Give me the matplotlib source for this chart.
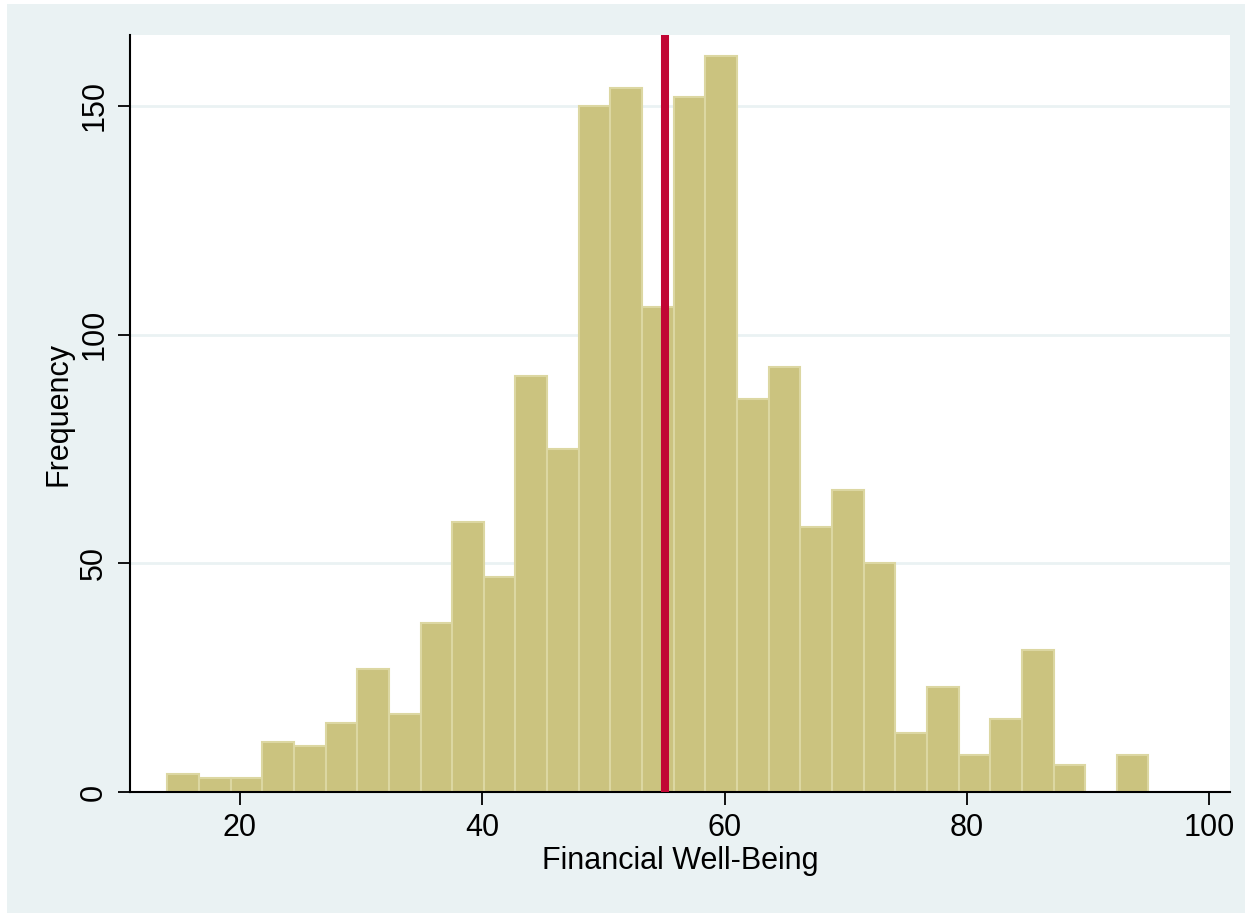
import numpy as np
import matplotlib.pyplot as plt
from matplotlib.patches import Rectangle

plt.rcParams['font.family'] = ['Liberation Sans', 'DejaVu Sans']

# histogram data (31 bins between 14 and 95)
bin_min = 14
bin_max = 95
counts = [4, 3, 3, 11, 10, 15, 27, 17, 37, 59, 47, 91, 75, 150, 154, 106,
          152, 161, 86, 93, 58, 66, 50, 13, 23, 8, 16, 31, 6, 0, 8]
mean_value = 55.1
xticks = [20, 40, 60, 80, 100]
yticks = [0, 50, 100, 150]

edges = np.linspace(bin_min, bin_max, len(counts) + 1)
width = edges[1] - edges[0]

fig = plt.figure(figsize=(12.45, 9.13), dpi=100, facecolor='white')
# stata-like graph region
fig.patches.append(Rectangle((7 / 1245, 0), 1.0, 1 - 4 / 913, transform=fig.transFigure,
                             facecolor='#EAF2F3', edgecolor='none', zorder=-1))

ax = fig.add_axes([130 / 1245, 121 / 913, 1100 / 1245, 757 / 913])
ax.set_facecolor('white')

ax.bar(edges[:-1], counts, width=width, align='edge', color='#CBC37F',
       edgecolor='#DCD7A2', linewidth=1.5, zorder=2)
ax.axvline(mean_value, color='#C10534', linewidth=5.8, zorder=3)

ax.set_xlim(10.92, 101.73)
ax.set_ylim(0, 165.5)
ax.set_xticks(xticks)
ax.set_yticks(yticks)
ax.set_yticklabels([str(v) for v in yticks], rotation=90, va='center')

for v in yticks[1:]:
    ax.axhline(v, color='#EAF2F3', linewidth=2, zorder=1)

for s in ['top', 'right']:
    ax.spines[s].set_visible(False)
for s in ['left', 'bottom']:
    ax.spines[s].set_linewidth(1.5)
    ax.spines[s].set_color('black')

ax.tick_params(axis='both', length=9, width=1.3, labelsize=22, color='black')
ax.tick_params(axis='x', pad=6)
ax.tick_params(axis='y', pad=6)

ax.set_xlabel('Financial Well-Being', fontsize=22, labelpad=2)
ax.set_ylabel('Frequency', fontsize=22, labelpad=4)

fig.savefig('out.png', dpi=100, facecolor='white')
